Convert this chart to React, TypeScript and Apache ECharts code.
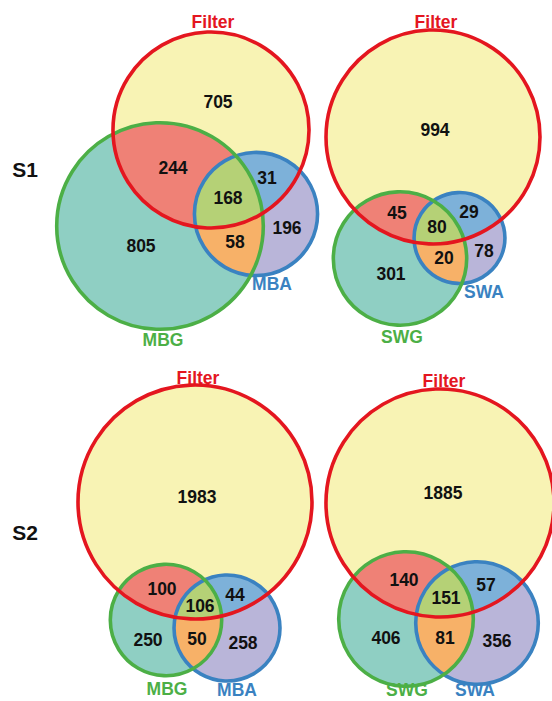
import React, { useEffect, useRef } from 'react';
import * as echarts from 'echarts';

// ---------- data ----------
const rowLabels = ['S1', 'S2'];
const setNamesLeft = ['Filter', 'MBG', 'MBA'];
const setNamesRight = ['Filter', 'SWG', 'SWA'];
// region order: [A only, B only, C only, A∩B, A∩C, B∩C, A∩B∩C]   (A = Filter, B = *G, C = *A)
const s1Left = [705, 805, 196, 244, 31, 58, 168];
const s1Right = [994, 301, 78, 45, 29, 20, 80];
const s2Left = [1983, 250, 258, 100, 44, 50, 106];
const s2Right = [1885, 406, 356, 140, 57, 81, 151];

const panelValues = [s1Left, s1Right, s2Left, s2Right];
const panelNames = [setNamesLeft, setNamesRight, setNamesLeft, setNamesRight];

// ---------- layout (positions / scale, in chart units) ----------
const layout = [
  {
    scale: 2.893,
    centers: [[211, 130], [160, 226], [256, 214]],
    valuePos: [[218, 102], [141, 246], [287, 228], [173, 168], [267, 178], [235, 242], [228, 198]],
    namePos: [[213, 22], [163, 340], [272, 284]],
  },
  {
    scale: 3.158,
    centers: [[433, 137], [400, 258.5], [459.5, 238]],
    valuePos: [[435, 130], [391, 274], [484, 251], [397, 213], [469, 212], [444, 258], [437, 227]],
    namePos: [[436, 22], [402, 337], [484, 292]],
  },
  {
    scale: 2.476,
    centers: [[195, 502], [166, 620], [227, 628]],
    valuePos: [[197, 497], [148, 640], [243, 643], [162, 589], [235, 595], [197, 639], [200, 606]],
    namePos: [[198, 378], [167, 689], [237, 690]],
  },
  {
    scale: 2.413,
    centers: [[440, 503], [406, 619], [477, 623]],
    valuePos: [[443, 493], [386, 638], [497, 641], [404, 580], [486, 585], [445, 638], [446, 598]],
    namePos: [[444, 381], [407, 690], [475, 690]],
  },
];
const rowLabelPos = [[25, 169], [25, 532]];

// ---------- styles ----------
const regionColors = ['#F8F3B4', '#8FCFC3', '#B9B5D9', '#EF8176', '#7DB1D9', '#F7B168', '#B5D176'];
const strokeColors = ['#E4161F', '#4CAF46', '#3A82C1'];
const FONT = "'Liberation Sans', Arial, Helvetica, sans-serif";
const FS = 17.5;

type Pt = number[];

function circlePoly(cx: number, cy: number, r: number, n = 240): Pt[] {
  const pts: Pt[] = [];
  for (let i = 0; i < n; i++) {
    const t = (i / n) * Math.PI * 2;
    pts.push([cx + r * Math.cos(t), cy + r * Math.sin(t)]);
  }
  return pts;
}

function cross(a: Pt, b: Pt, p: Pt) {
  return (b[0] - a[0]) * (p[1] - a[1]) - (b[1] - a[1]) * (p[0] - a[0]);
}

function clipPoly(subject: Pt[], clip: Pt[]): Pt[] {
  let output = subject;
  for (let i = 0; i < clip.length; i++) {
    const a = clip[i];
    const b = clip[(i + 1) % clip.length];
    const input = output;
    output = [];
    if (!input.length) break;
    for (let j = 0; j < input.length; j++) {
      const s = input[(j + input.length - 1) % input.length];
      const e = input[j];
      const cs = cross(a, b, s);
      const ce = cross(a, b, e);
      const inS = cs >= 0;
      const inE = ce >= 0;
      if (inE) {
        if (!inS) {
          const t = cs / (cs - ce);
          output.push([s[0] + t * (e[0] - s[0]), s[1] + t * (e[1] - s[1])]);
        }
        output.push(e);
      } else if (inS) {
        const t = cs / (cs - ce);
        output.push([s[0] + t * (e[0] - s[0]), s[1] + t * (e[1] - s[1])]);
      }
    }
  }
  return output;
}

function setTotals(v: number[]) {
  return [
    v[0] + v[3] + v[4] + v[6],
    v[1] + v[3] + v[5] + v[6],
    v[2] + v[4] + v[5] + v[6],
  ];
}

export default function App() {
  const ref = useRef<HTMLDivElement>(null);

  useEffect(() => {
    if (!ref.current) return;
    const chart = echarts.init(ref.current, null, { renderer: 'svg' });

    const renderItem = (params: any, api: any) => {
      const idx = params.dataIndex;
      const vals = panelValues[idx];
      const names = panelNames[idx];
      const lay = layout[idx];
      const totals = setTotals(vals);
      const circles = lay.centers.map((c, k) => {
        const p = api.coord(c);
        const rData = lay.scale * Math.sqrt(totals[k]);
        const r = api.size([rData, 0])[0];
        return { cx: p[0], cy: p[1], r };
      });
      const polys = circles.map((c) => circlePoly(c.cx, c.cy, c.r));
      const children: any[] = [];
      circles.forEach((c, k) => {
        children.push({
          type: 'circle',
          shape: { cx: c.cx, cy: c.cy, r: c.r },
          style: { fill: regionColors[k], stroke: null },
        });
      });
      const pairs = [[0, 1], [0, 2], [1, 2]];
      pairs.forEach((pr, k) => {
        const pts = clipPoly(polys[pr[0]], polys[pr[1]]);
        if (pts.length > 2) {
          children.push({
            type: 'polygon',
            shape: { points: pts },
            style: { fill: regionColors[3 + k], stroke: null },
          });
        }
      });
      const triple = clipPoly(clipPoly(polys[0], polys[1]), polys[2]);
      if (triple.length > 2) {
        children.push({
          type: 'polygon',
          shape: { points: triple },
          style: { fill: regionColors[6], stroke: null },
        });
      }
      [2, 1, 0].forEach((k) => {
        const c = circles[k];
        children.push({
          type: 'circle',
          shape: { cx: c.cx, cy: c.cy, r: c.r },
          style: { fill: 'none', stroke: strokeColors[k], lineWidth: 3.6 },
        });
      });
      vals.forEach((v, k) => {
        const p = api.coord(lay.valuePos[k]);
        children.push({
          type: 'text',
          x: p[0],
          y: p[1],
          style: {
            text: String(v),
            fill: '#111111',
            fontSize: FS,
            fontWeight: 'bold',
            fontFamily: FONT,
            align: 'center',
            verticalAlign: 'middle',
          },
        });
      });
      names.forEach((n, k) => {
        const p = api.coord(lay.namePos[k]);
        children.push({
          type: 'text',
          x: p[0],
          y: p[1],
          style: {
            text: n,
            fill: strokeColors[k],
            fontSize: FS,
            fontWeight: 'bold',
            fontFamily: FONT,
            align: 'center',
            verticalAlign: 'middle',
          },
        });
      });
      return { type: 'group', children };
    };

    const rowRender = (params: any, api: any) => {
      const p = api.coord(rowLabelPos[params.dataIndex]);
      return {
        type: 'text',
        x: p[0],
        y: p[1],
        style: {
          text: rowLabels[params.dataIndex],
          fill: '#111111',
          fontSize: 21,
          fontWeight: 'bold',
          fontFamily: FONT,
          align: 'center',
          verticalAlign: 'middle',
        },
      };
    };

    chart.setOption({
      animation: false,
      backgroundColor: '#ffffff',
      grid: { left: 0, right: 0, top: 0, bottom: 0 },
      xAxis: { type: 'value', min: 0, max: 552, show: false },
      yAxis: { type: 'value', min: 0, max: 701, inverse: true, show: false },
      series: [
        {
          type: 'custom',
          silent: true,
          clip: false,
          renderItem,
          data: panelValues.map((_, i) => [i, 0]),
        },
        {
          type: 'custom',
          silent: true,
          clip: false,
          renderItem: rowRender,
          data: rowLabels.map((_, i) => [i, 0]),
        },
      ],
    });

    return () => chart.dispose();
  }, []);

  return (
    <div
      ref={ref}
      style={{ position: 'absolute', left: 0, top: 0, width: 552, height: 701 }}
    />
  );
}
